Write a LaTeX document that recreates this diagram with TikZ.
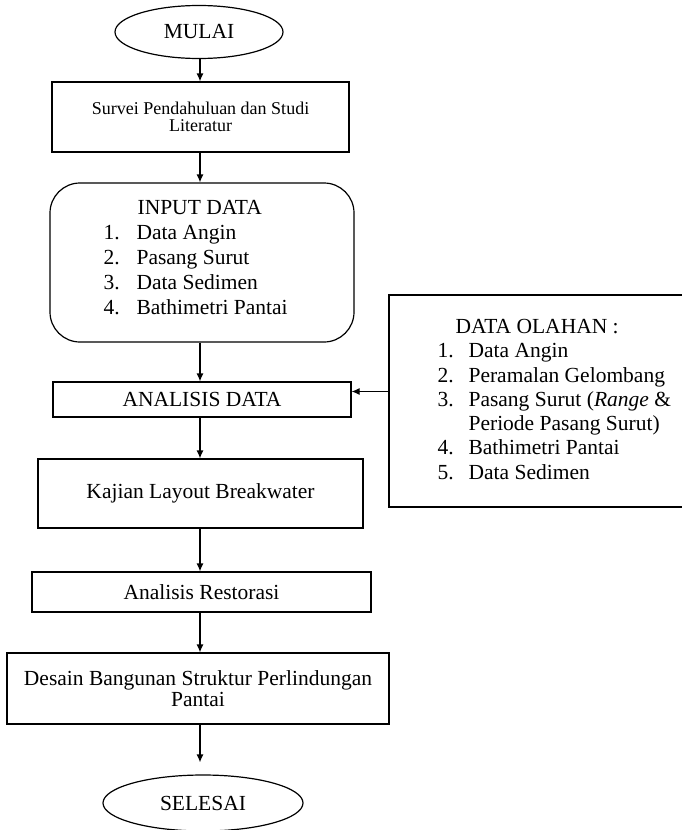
\documentclass[tikz,border=0pt]{standalone}
\usepackage{fontspec}
\setmainfont{Liberation Serif}
\usetikzlibrary{shapes.geometric,arrows.meta}

\begin{document}
\begin{tikzpicture}[x=1pt,y=-1pt,
    line width=1.2pt,
    arrow/.style={-{Latex[length=8pt,width=7pt]}},
    terminal/.style={draw,ellipse,inner sep=0pt,font=\fontsize{21.5}{25}\selectfont},
    stepbox/.style={draw,rectangle,inner sep=0pt,align=center,font=\fontsize{21.5}{21.5}\selectfont},
    roundbox/.style={draw,rectangle,rounded corners=30pt,inner sep=0pt},
    listtext/.style={inner sep=0pt,anchor=west}]
    \useasboundingbox (0,0) rectangle (682,830);
    \coordinate (axis) at (200,0);

    % Alur utama
    \node[terminal,minimum width=168pt,minimum height=53pt] (mulai) at (199,32) {MULAI};
    \node[stepbox,minimum width=297pt,minimum height=70pt,font=\fontsize{18}{17}\selectfont]
        (survei) at (200.5,117) {Survei Pendahuluan dan Studi\\Literatur};
    \node[roundbox,minimum width=304pt,minimum height=159pt] (input) at (202,262.5) {};
    \node[listtext] (inputlist) at (103,259.5) {\fontsize{21.5}{25}\selectfont
        \begin{tabular}{@{}p{33pt}@{}l@{}}
            \multicolumn{2}{@{}l@{}}{\hspace*{34pt}INPUT DATA}\\
            1. & Data Angin\\
            2. & Pasang Surut\\
            3. & Data Sedimen\\
            4. & Bathimetri Pantai
        \end{tabular}};
    \node[stepbox,minimum width=298pt,minimum height=35pt] (analisis) at (202,399.5) {ANALISIS DATA};
    \node[stepbox,minimum width=325pt,minimum height=69pt] (kajian) at (200.5,493.5) {Kajian Layout Breakwater};
    \node[stepbox,minimum width=339pt,minimum height=40pt] (restorasi) at (201.5,592) {Analisis Restorasi};
    \node[stepbox,minimum width=382pt,minimum height=71pt] (desain) at (198,688.5)
        {Desain Bangunan Struktur Perlindungan\\Pantai};
    \node[terminal,minimum width=200pt,minimum height=56pt] (selesai) at (203,803) {SELESAI};

    % Data olahan
    \node[draw,rectangle,minimum width=297pt,minimum height=212pt] (olahan) at (537.5,401) {};
    \node[listtext] (olahanlist) at (437,401.5) {\fontsize{21.5}{24.3}\selectfont
        \begin{tabular}{@{}p{31pt}@{}l@{}}
            \multicolumn{2}{@{}l@{}}{\hspace*{18pt}DATA OLAHAN :}\\
            1. & Data Angin\\
            2. & Peramalan Gelombang\\
            3. & Pasang Surut (\textit{Range} \&\\
               & Periode Pasang Surut)\\
            4. & Bathimetri Pantai\\
            5. & Data Sedimen
        \end{tabular}};

    \draw[arrow] (mulai.south -| axis) -- (survei.north -| axis);
    \draw[arrow] (survei.south -| axis) -- (input.north -| axis);
    \draw[arrow] (input.south -| axis) -- (analisis.north -| axis);
    \draw[arrow] (analisis.south -| axis) -- (kajian.north -| axis);
    \draw[arrow] (kajian.south -| axis) -- (restorasi.north -| axis);
    \draw[arrow] (restorasi.south -| axis) -- (desain.north -| axis);
    \draw[arrow,shorten >=12pt] (desain.south -| axis) -- (selesai.north -| axis);
    \draw[arrow] ([yshift=8pt]analisis.east -| olahan.west) -- ([yshift=8pt]analisis.east);
\end{tikzpicture}
\end{document}
